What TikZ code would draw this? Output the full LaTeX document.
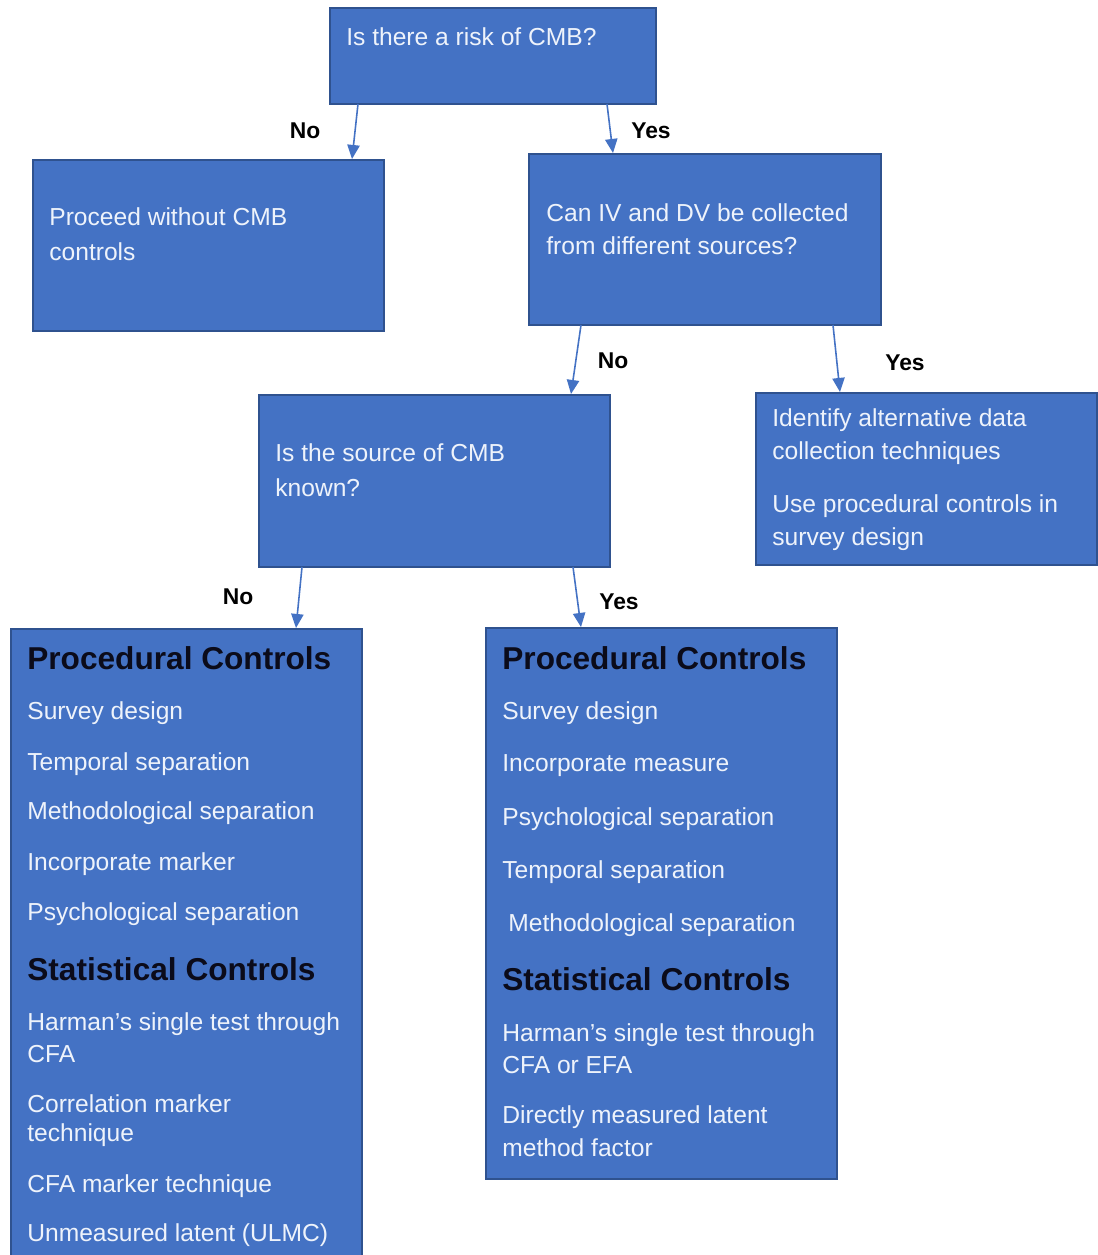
\documentclass[tikz,border=0pt]{standalone}
\usepackage{fontspec}
\setmainfont{Liberation Sans}
\usetikzlibrary{arrows.meta,fit}
\definecolor{boxfill}{HTML}{4472C4}
\definecolor{boxline}{HTML}{2F528F}
\definecolor{boxtext}{HTML}{EEF3FB}
\definecolor{headtext}{HTML}{0B0B1A}
\tikzset{
  x=0.02cm, y=-0.02cm,
  box/.style={draw=boxline, line width=0.9pt, fill=boxfill, inner sep=0pt},
  txt/.style={anchor=west, inner sep=0pt, text=boxtext, font=\fontsize{14}{16}\selectfont},
  head/.style={anchor=west, inner sep=0pt, text=headtext, font=\fontsize{18}{20}\selectfont\bfseries},
  lab/.style={inner sep=0pt, text=black, font=\fontsize{13}{15}\selectfont\bfseries},
  link/.style={draw=boxfill, line width=0.9pt, -{Triangle[width=7pt,length=8pt]}}
}
\begin{document}
\begin{tikzpicture}
\clip (0,0) rectangle (1098,1255);
\fill[white] (0,0) rectangle (1098,1255);

% decision boxes
\node[box, fit={(330,8) (656,104)}] (risk) {};
\node[box, fit={(33,160) (384,331)}] (proceed) {};
\node[box, fit={(529,154) (881,325)}] (sources) {};
\node[box, fit={(259,395) (610,567)}] (known) {};
\node[box, fit={(756,393) (1097,565)}] (alt) {};
\node[box, fit={(11,629) (362,1262)}] (unknownctl) {};
\node[box, fit={(486,628) (837,1179)}] (knownctl) {};

% box texts
\node[txt] (t1) at (346,37) {Is there a risk of CMB?};
\node[txt] (t2a) at (49,217) {Proceed without CMB};
\node[txt] (t2b) at (49,252) {controls};
\node[txt] (t3a) at (546,213) {Can IV and DV be collected};
\node[txt] (t3b) at (546,246) {from different sources?};
\node[txt] (t4a) at (275,453) {Is the source of CMB};
\node[txt] (t4b) at (275,488) {known?};
\node[txt] (t5a) at (772,420) {Identify alternative data};
\node[txt] (t5b) at (772,453) {collection techniques};
\node[txt] (t5c) at (772,506) {Use procedural controls in};
\node[txt] (t5d) at (772,539) {survey design};

% controls when the source is unknown
\node[head] (lh1) at (27,658) {Procedural Controls};
\node[txt] (l1) at (27,713) {Survey design};
\node[txt] (l2) at (27,764) {Temporal separation};
\node[txt] (l3) at (27,813) {Methodological separation};
\node[txt] (l4) at (27,864) {Incorporate marker};
\node[txt] (l5) at (27,914) {Psychological separation};
\node[head] (lh2) at (27,969) {Statistical Controls};
\node[txt] (l6) at (27,1024) {Harman's single test through};
\node[txt] (l6b) at (27,1054) {CFA};
\node[txt] (l7) at (27,1104) {Correlation marker};
\node[txt] (l7b) at (27,1135) {technique};
\node[txt] (l8) at (27,1186) {CFA marker technique};
\node[txt] (l9) at (27,1235) {Unmeasured latent (ULMC)};

% controls when the source is known
\node[head] (rh1) at (502,658) {Procedural Controls};
\node[txt] (r1) at (502,713) {Survey design};
\node[txt] (r2) at (502,766) {Incorporate measure};
\node[txt] (r3) at (502,819) {Psychological separation};
\node[txt] (r4) at (502,872) {Temporal separation};
\node[txt] (r5) at (508,925) {Methodological separation};
\node[head] (rh2) at (502,979) {Statistical Controls};
\node[txt] (r6) at (502,1035) {Harman's single test through};
\node[txt] (r6b) at (502,1065) {CFA or EFA};
\node[txt] (r7) at (502,1117) {Directly measured latent};
\node[txt] (r7b) at (502,1148) {method factor};

% connectors
\coordinate (a1s) at (358,104); \coordinate (a1e) at (352,159);
\coordinate (a2s) at (607,104); \coordinate (a2e) at (613,153);
\coordinate (a3s) at (581,325); \coordinate (a3e) at (571,394);
\coordinate (a4s) at (833,325); \coordinate (a4e) at (840,392);
\coordinate (a5s) at (302,567); \coordinate (a5e) at (296,628);
\coordinate (a6s) at (573,567); \coordinate (a6e) at (581,627);
\draw[link] (a1s) -- (a1e);
\draw[link] (a2s) -- (a2e);
\draw[link] (a3s) -- (a3e);
\draw[link] (a4s) -- (a4e);
\draw[link] (a5s) -- (a5e);
\draw[link] (a6s) -- (a6e);

% branch labels
\node[lab] (n1) at (305,131) {No};
\node[lab] (y1) at (651,131) {Yes};
\node[lab] (n2) at (613,361) {No};
\node[lab] (y2) at (905,363) {Yes};
\node[lab] (n3) at (238,597) {No};
\node[lab] (y3) at (619,602) {Yes};
\end{tikzpicture}
\end{document}
